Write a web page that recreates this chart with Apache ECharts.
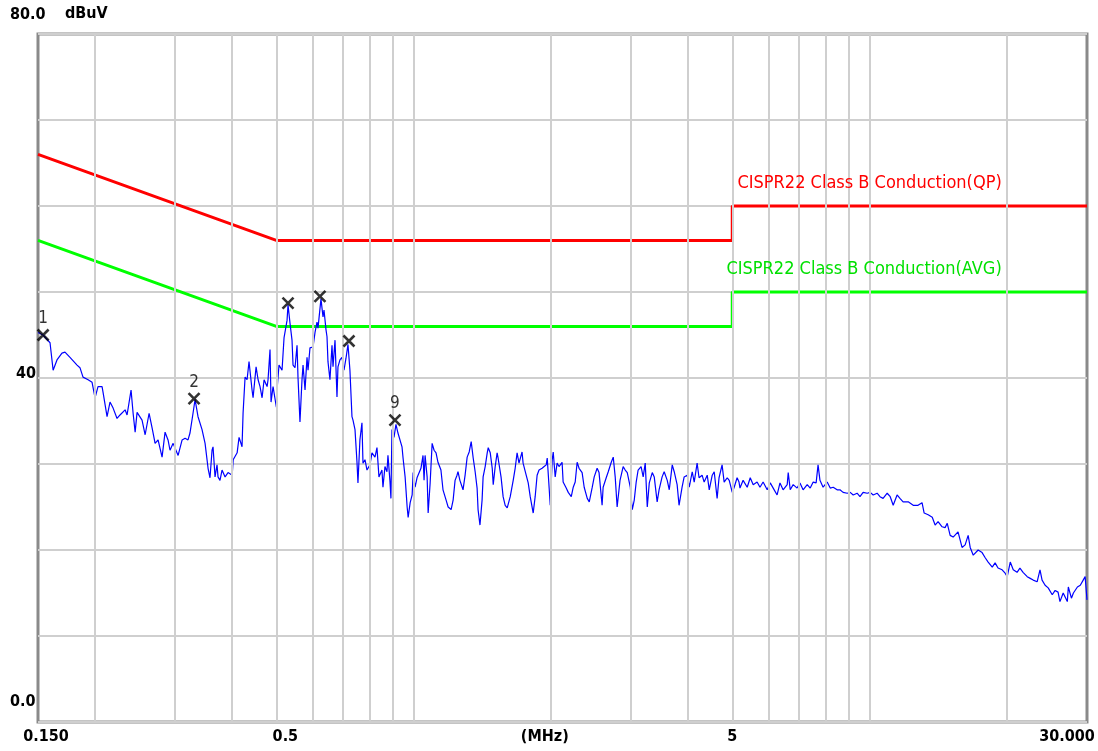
<!DOCTYPE html>
<html><head><meta charset="utf-8">
<script src="https://cdn.jsdelivr.net/npm/echarts@6/dist/echarts.min.js"></script>
<style>html,body{margin:0;padding:0;background:#fff}#c{width:1098px;height:751px}</style>
</head><body><div id="c"></div>
<script>
// ---- data ----
const freqMHz = [0.150,0.1539,0.1594,0.1619,0.1651,0.1693,0.1719,0.1763,0.1827,0.1854,0.1883,0.1932,0.1971,0.2001,0.2031,0.2073,0.2084,0.2126,0.2158,0.2192,0.2236,0.2270,0.2329,0.2352,0.2400,0.2425,0.2450,0.2474,0.2537,0.2577,0.2629,0.2669,0.2710,0.2751,0.2807,0.2850,0.2893,0.2922,0.2968,0.3044,0.3106,0.3153,0.3200,0.3232,0.3282,0.3316,0.3366,0.3435,0.3488,0.3541,0.3576,0.3613,0.3631,0.3668,0.3705,0.3724,0.3761,0.3800,0.3859,0.3917,0.4000,0.4020,0.4101,0.4141,0.4204,0.4226,0.4269,0.4312,0.4355,0.4422,0.4445,0.4513,0.4559,0.4604,0.4652,0.4699,0.4771,0.4794,0.4842,0.4867,0.4917,0.5000,0.5023,0.5067,0.5145,0.5198,0.5277,0.5303,0.5356,0.5411,0.5439,0.5494,0.5550,0.5577,0.5633,0.5691,0.5721,0.5779,0.5837,0.5867,0.5925,0.6017,0.6078,0.6139,0.6170,0.6263,0.6328,0.6360,0.6425,0.6457,0.6489,0.6554,0.6622,0.6656,0.6724,0.6791,0.6825,0.6893,0.6964,0.7036,0.7107,0.7179,0.7250,0.7325,0.7363,0.7438,0.7513,0.7550,0.7625,0.7704,0.7744,0.7823,0.7902,0.7941,0.8020,0.8103,0.8228,0.8311,0.8394,0.8522,0.8566,0.8653,0.8741,0.8785,0.8872,0.8918,0.8964,0.9056,0.9148,0.9240,0.9286,0.9431,0.9481,0.9580,0.9679,0.9728,0.9828,0.9927,0.9976,1.0075,1.0174,1.0273,1.0378,1.0487,1.0542,1.0597,1.0707,1.0762,1.0871,1.0981,1.1090,1.1200,1.1310,1.1480,1.1601,1.1784,1.1905,1.2087,1.2209,1.2330,1.2452,1.2513,1.2634,1.2836,1.2971,1.3106,1.3241,1.3376,1.3511,1.3646,1.3781,1.3848,1.3983,1.4132,1.4206,1.4355,1.4504,1.4578,1.4727,1.4876,1.4950,1.5099,1.5247,1.5322,1.5552,1.5716,1.5881,1.6045,1.6291,1.6537,1.6702,1.6866,1.7030,1.7294,1.7385,1.7658,1.7840,1.8022,1.8295,1.8477,1.8660,1.8842,1.9134,1.9336,1.9538,1.9638,1.9738,1.9940,2.0141,2.0242,2.0443,2.0644,2.0846,2.1169,2.1281,2.1615,2.1838,2.2173,2.2396,2.2619,2.2842,2.3065,2.3423,2.3669,2.4038,2.4284,2.4653,2.4899,2.5268,2.5514,2.5910,2.6046,2.6455,2.6728,2.7137,2.7410,2.7683,2.7955,2.8365,2.8818,2.9120,2.9421,2.9874,3.0176,3.0478,3.0779,3.1081,3.1550,3.1883,3.2217,3.2550,3.2883,3.3382,3.3716,3.4216,3.4549,3.5084,3.5452,3.6005,3.6374,3.6926,3.7295,3.7848,3.8216,3.8808,3.9216,3.9829,4.0237,4.0849,4.1257,4.1870,4.2278,4.2934,4.3385,4.4063,4.4515,4.5192,4.5644,4.6321,4.6772,4.7497,4.7997,4.8745,4.9244,5.000,5.0492,5.1240,5.1739,5.199,5.2819,5.3924,5.4753,5.5581,5.6686,5.7515,5.8432,5.9655,6.0572,6.1489,6.2712,6.3629,6.4643,6.5995,6.6333,6.7009,6.8023,6.9375,7.039,7.1512,7.3008,7.413,7.5252,7.6374,7.7122,7.787,7.9112,8.0768,8.201,8.3252,8.4908,8.615,8.7524,8.9356,9.073,9.2104,9.3936,9.531,9.683,9.8856,10.037,10.189,10.392,10.544,10.712,10.936,11.104,11.272,11.496,11.664,11.85,12.16,12.47,12.78,13.04,13.18,13.45,13.73,13.93,14.14,14.43,14.65,14.81,15.03,15.26,15.64,15.96,16.21,16.46,16.63,16.89,17.31,17.66,17.94,18.21,18.59,18.86,19.14,19.54,19.84,20.05,20.36,20.67,21.07,21.38,21.72,22.18,22.52,22.86,23.32,23.66,23.91,24.28,24.66,25.17,25.54,25.92,26.17,26.60,27.16,27.30,27.73,28.01,28.58,29.00,29.43,29.72,30.00];
const levelDb = [45.3,45.0,44.1,40.9,42.1,42.9,43.0,42.4,41.5,41.2,40.1,39.8,39.5,37.7,39.0,39.0,38.3,35.5,37.2,36.5,35.3,35.7,36.3,35.7,38.6,35.9,33.7,36.0,35.1,33.4,35.9,34.2,32.4,32.8,30.8,33.7,32.8,31.6,32.4,31.0,32.8,33.0,32.8,33.6,35.9,37.5,35.5,34.0,32.4,29.5,28.4,31.6,32.0,28.5,29.9,28.5,28.1,29.3,28.5,29.0,28.7,30.5,31.3,33.1,32.0,35.9,40.1,39.8,41.9,38.6,37.7,41.3,39.8,39.0,37.7,39.8,39.0,39.8,43.3,37.2,39.0,36.6,39.0,41.5,40.9,44.7,46.7,48.5,46.4,44.4,41.5,41.2,43.8,40.1,34.9,39.8,41.5,38.6,42.4,40.9,43.5,43.6,45.3,46.5,45.8,49.2,47.1,47.9,45.6,44.8,41.9,39.8,43.8,41.3,44.4,37.8,41.3,42.1,42.4,40.9,42.3,43.9,40.9,35.5,35.1,34.0,30.2,27.8,32.8,34.8,30.1,30.5,29.3,29.1,29.9,31.3,30.8,31.9,28.5,29.3,27.3,29.7,29.1,31.0,28.1,26.0,34.0,33.1,34.6,33.6,33.7,32.0,30.7,28.5,25.0,23.8,25.5,26.4,29.0,27.3,28.4,28.5,29.5,31.0,28.1,31.0,28.5,24.3,27.8,32.4,31.6,31.3,30.2,29.3,27.0,25.8,25.0,24.7,25.8,28.1,28.7,29.1,28.1,27.0,28.7,30.8,31.4,32.6,30.7,29.1,27.2,24.7,22.9,25.8,28.5,29.7,31.3,31.9,31.3,29.5,27.6,29.7,31.3,30.7,28.5,26.2,25.2,24.9,26.2,28.1,29.5,31.3,30.1,31.4,30.1,28.7,27.8,26.2,24.3,26.2,28.7,29.3,29.5,29.7,29.9,30.7,30.8,25.2,30.5,31.4,28.5,30.1,29.7,30.2,27.9,27.2,26.7,26.2,27.3,27.9,30.2,29.5,29.0,27.3,26.0,25.6,27.3,28.5,29.5,29.0,25.2,27.3,28.4,29.1,30.2,30.8,28.5,25.0,28.1,29.7,29.3,29.0,27.3,24.7,25.8,27.9,29.3,29.7,28.5,30.1,25.0,27.8,29.0,28.5,25.6,27.0,28.5,29.1,28.1,27.0,29.9,29.1,27.6,25.2,27.3,28.5,28.7,27.3,29.1,27.9,30.1,28.4,28.7,27.9,28.7,27.0,28.7,29.1,26.0,28.4,29.9,27.9,28.4,28.1,26.7,27.3,28.4,27.9,27.2,28.1,27.3,28.4,27.6,27.9,27.3,27.9,27.0,27.8,27.2,26.4,27.8,27.0,27.6,29.0,27.0,27.6,27.2,27.8,27.0,27.6,27.2,27.9,27.8,29.9,28.1,27.3,27.9,27.2,27.3,27.0,27.0,26.7,26.6,26.7,26.4,26.6,26.2,26.7,26.6,26.7,26.4,26.6,26.2,26.0,26.6,26.2,25.2,26.4,26.0,25.6,25.6,25.2,25.2,25.5,24.3,24.1,23.8,22.9,23.3,22.7,22.6,23.1,21.7,21.5,22.1,20.3,20.6,21.7,20.3,19.4,20.0,19.7,19.1,18.6,18.0,18.5,17.9,17.7,17.3,16.9,18.6,17.7,17.4,17.9,17.4,16.9,16.7,16.5,16.3,17.7,16.5,15.9,15.6,14.8,15.3,15.1,14.0,15.0,14.0,15.7,14.4,15.0,15.7,15.9,16.5,16.9,14.2];

const qpLimitFreq = [0.15, 0.5, 5, 5, 30];
const qpLimitDb   = [66, 56, 56, 60, 60];
const avgLimitFreq = [0.15, 0.5, 5, 5, 30];
const avgLimitDb   = [56, 46, 46, 50, 50];
const qpName  = 'CISPR22 Class B Conduction(QP)';
const avgName = 'CISPR22 Class B Conduction(AVG)';
const nameAnchorFreq = 19.5;

const markerFreq = [0.1539, 0.3299, 0.5303, 0.6231, 0.7214, 0.9102];
const markerDb   = [45.0, 37.6, 48.7, 49.5, 44.3, 35.1];
const markerLabels = ['1', '2', '', '', '', '9'];

const gridFreqs = [0.2,0.3,0.4,0.5,0.6,0.7,0.8,0.9,1,2,3,4,5,6,7,8,9,10,20];
const xTickFreqs  = [0.15, 0.5, 1.94, 5, 30];
const xTickLabels = ['0.150', '0.5', '(MHz)', '5', '30.000'];
const yTickLabels = { 0: '0.0', 40: '40', 80: '80.0' };
const yUnit = 'dBuV';

// ---- styles ----
const FONT = "'DejaVu Sans Condensed','Liberation Sans Narrow','Liberation Sans',sans-serif";
const xTickOffsets = [8, 9, 0, 0, -20];
const GRID_COLOR = '#cfcfcf';
const AX = { fontFamily: FONT, fontWeight: 'bold', fontSize: 16, lineHeight: 18, color: '#000' };

const zip = (a, b) => a.map((v, i) => [v, b[i]]);

const chart = echarts.init(document.getElementById('c'), null, { renderer: 'canvas' });
chart.setOption({
  animation: false,
  backgroundColor: '#ffffff',
  grid: { left: 38, top: 34, right: 11, bottom: 29, show: true, borderColor: '#8a8a8a', borderWidth: 3, backgroundColor: '#ffffff', containLabel: false, outerBoundsMode: 'none' },
  xAxis: {
    type: 'log', logBase: 10, min: 0.15, max: 30,
    axisLine: { show: false }, axisTick: { show: false }, axisLabel: { show: false },
    splitLine: { show: false }, minorTick: { show: false }, minorSplitLine: { show: false }
  },
  yAxis: {
    type: 'value', min: 0, max: 80, interval: 10,
    name: yUnit, nameLocation: 'end', nameGap: 11, nameMoveOverlap: false,
    nameTextStyle: Object.assign({}, AX, { align: 'left', verticalAlign: 'bottom', padding: [0, 0, 0, 27] }),
    axisLine: { show: false }, axisTick: { show: false },
    splitLine: { show: true, lineStyle: { color: GRID_COLOR, width: 2 } },
    axisLabel: {
      margin: 28, align: 'left', verticalAlign: 'middle', hideOverlap: false,
      formatter: function (v) {
        const t = yTickLabels[v];
        if (t === undefined) return '';
        if (v === 80) return '{a|' + t + '}';
        if (v === 40) return '{b|' + t + '}';
        return '{c|' + t + '}';
      },
      rich: {
        a: Object.assign({}, AX, { padding: [0, 0, 39, 0] }),
        b: Object.assign({}, AX, { padding: [0, 0, 9, 6] }),
        c: Object.assign({}, AX, { padding: [0, 0, 40, 0] })
      }
    }
  },
  series: [
    {
      name: 'grid', type: 'line', data: [], z: 1, silent: true,
      markLine: {
        silent: true, symbol: ['none', 'none'], animation: false,
        lineStyle: { color: GRID_COLOR, width: 2, type: 'solid' },
        label: { show: false },
        data: gridFreqs.map(f => ({ xAxis: f }))
      }
    },
    {
      name: 'ticks', type: 'line', data: [], z: 1, silent: true,
      markLine: {
        silent: true, symbol: ['none', 'none'], animation: false,
        lineStyle: { color: 'rgba(0,0,0,0)', width: 1, type: 'solid' },
        label: Object.assign({ show: true, position: 'start', distance: 6 }, AX),
        data: xTickFreqs.map((f, i) => ({ xAxis: f, label: { formatter: xTickLabels[i], offset: [xTickOffsets[i], 0] } }))
      }
    },
    {
      name: qpName, type: 'line', data: zip(qpLimitFreq, qpLimitDb), z: 3,
      symbol: 'none', lineStyle: { color: '#ff0000', width: 3 }, itemStyle: { color: '#ff0000' },
      markPoint: {
        symbol: 'circle', symbolSize: 0, animation: false,
        label: { show: true, position: 'inside', formatter: qpName, align: 'right', verticalAlign: 'middle', offset: [0, -22.5], fontFamily: FONT, fontSize: 18, color: '#ff0000' },
        data: [{ coord: [nameAnchorFreq, qpLimitDb[4]] }]
      }
    },
    {
      name: avgName, type: 'line', data: zip(avgLimitFreq, avgLimitDb), z: 3,
      symbol: 'none', lineStyle: { color: '#00ff00', width: 3 }, itemStyle: { color: '#00ff00' },
      markPoint: {
        symbol: 'circle', symbolSize: 0, animation: false,
        label: { show: true, position: 'inside', formatter: avgName, align: 'right', verticalAlign: 'middle', offset: [0, -22.5], fontFamily: FONT, fontSize: 18, color: '#00e000' },
        data: [{ coord: [nameAnchorFreq, avgLimitDb[4]] }]
      }
    },
    {
      name: 'Level', type: 'line', data: zip(freqMHz, levelDb), z: 4,
      symbol: 'none', lineStyle: { color: '#0000ff', width: 1.2 }, itemStyle: { color: '#0000ff' }
    },
    {
      name: 'Markers', type: 'scatter', data: zip(markerFreq, markerDb), z: 5,
      symbol: 'path://M0,0L10,10M10,0L0,10', symbolSize: 11,
      itemStyle: { color: 'rgba(0,0,0,0)', borderColor: '#000', borderWidth: 2.6 },
      label: { show: true, position: 'top', distance: 1, formatter: p => markerLabels[p.dataIndex], fontFamily: FONT, fontSize: 17, lineHeight: 17, color: '#000' }
    }
  ]
});
</script>
</body></html>
